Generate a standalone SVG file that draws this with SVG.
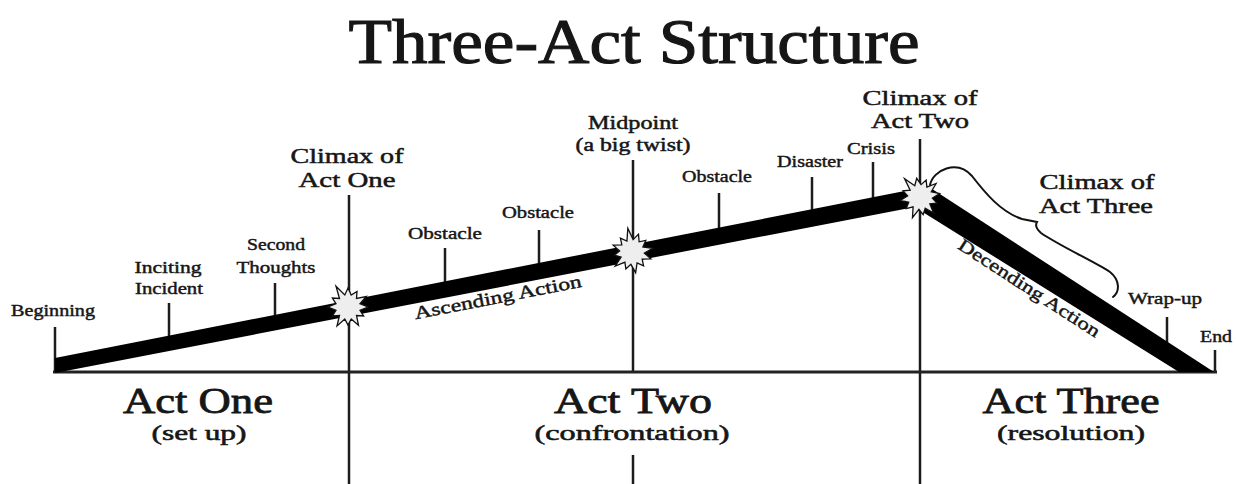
<svg xmlns="http://www.w3.org/2000/svg" width="1236" height="484" viewBox="0 0 1236 484">
  <defs>
    <style>
      text { font-family: "Liberation Serif", "Times New Roman", serif; fill: #161616; stroke: #161616; stroke-width: 0.45; text-anchor: middle; }
      .title { font-size: 64px; stroke-width: 1.1; }
      .sm { font-size: 17px; }
      .md { font-size: 21px; stroke-width: 0.5; }
      .mp { font-size: 19px; stroke-width: 0.5; }
      .act { font-size: 36px; stroke-width: 0.8; }
      .sub { font-size: 21px; stroke-width: 0.55; }
      .diag { font-size: 18px; }
      .thin { stroke: #1c1c1c; stroke-width: 2.5; fill: none; }
      .axis { stroke: #222; stroke-width: 3; fill: none; }
      .band { fill: #000; }
      .burst { fill: #eeeeee; stroke: #111; stroke-width: 1.3; stroke-linejoin: miter; }
      .brace { fill: none; stroke: #111; stroke-width: 2; stroke-linecap: round; }
    </style>
    <polygon id="star" points="20,0 12,3.2 15.6,9 8.5,8.5 10.5,18.2 3.2,12 0,18 -3.2,12 -11,19 -8.5,8.5 -15.6,9 -12,3.2 -20,0 -12,-3.2 -15.6,-9 -8.5,-8.5 -12,-20.8 -3.2,-12 0,-19 3.2,-12 9,-15.6 8.5,-8.5 18.2,-10.5 12,-3.2"/>
  </defs>
  <rect width="1236" height="484" fill="#ffffff"/>

  <text class="title" x="634" y="63" textLength="571" lengthAdjust="spacingAndGlyphs">Three-Act Structure</text>

  <g id="connectors">
    <!-- act dividers -->
    <line class="thin" x1="349" y1="195" x2="349" y2="484"/>
    <line class="thin" x1="633" y1="160" x2="633" y2="372"/>
    <line class="thin" x1="633" y1="455" x2="633" y2="484"/>
    <line class="thin" x1="920" y1="139" x2="920" y2="484"/>
    <!-- ticks -->
    <line class="thin" x1="55" y1="327" x2="55" y2="372"/>
    <line class="thin" x1="169" y1="303" x2="169" y2="343"/>
    <line class="thin" x1="275" y1="283" x2="275" y2="322"/>
    <line class="thin" x1="445" y1="248" x2="445" y2="289"/>
    <line class="thin" x1="539" y1="230" x2="539" y2="271"/>
    <line class="thin" x1="719" y1="193" x2="719" y2="236"/>
    <line class="thin" x1="812" y1="177" x2="812" y2="218"/>
    <line class="thin" x1="873" y1="162" x2="873" y2="206"/>
    <line class="thin" x1="1167" y1="317" x2="1167" y2="345"/>
    <line class="thin" x1="1215" y1="350" x2="1215" y2="372"/>
    <!-- baseline axis -->
    <line class="axis" x1="53" y1="372" x2="1217" y2="372"/>
    <!-- rising and falling action bands -->
    <polygon class="band" points="55,358 920,188 920,206 55,373"/>
    <polygon class="band" points="926,185 1214,372 1179,372 913,206"/>
    <!-- brace -->
    <path class="brace" d="M930,185 C933,170 957,159 972,176 C986,194 1001,212 1022,219 Q1032,221 1037,222 Q1034,227 1041,233 C1060,246 1095,262 1110,272 C1120,280 1120,292 1113,297"/>
  </g>

  <g id="burst-act-one"><use href="#star" class="burst" transform="translate(348,307)"/></g>
  <g id="burst-midpoint"><use href="#star" class="burst" transform="translate(632,252) rotate(20)"/></g>
  <g id="burst-act-two"><use href="#star" class="burst" transform="translate(920,197) rotate(-10)"/></g>

  <g id="beginning"><text class="sm" x="53" y="316" textLength="84" lengthAdjust="spacingAndGlyphs">Beginning</text></g>
  <g id="inciting-incident">
    <text class="sm" x="168" y="273" textLength="67" lengthAdjust="spacingAndGlyphs">Inciting</text>
    <text class="sm" x="169" y="294" textLength="68" lengthAdjust="spacingAndGlyphs">Incident</text>
  </g>
  <g id="second-thoughts">
    <text class="sm" x="276" y="250" textLength="58" lengthAdjust="spacingAndGlyphs">Second</text>
    <text class="sm" x="276" y="273" textLength="79" lengthAdjust="spacingAndGlyphs">Thoughts</text>
  </g>
  <g id="climax-act-one">
    <text class="md" x="347" y="163" textLength="113" lengthAdjust="spacingAndGlyphs">Climax of</text>
    <text class="md" x="347" y="187" textLength="97" lengthAdjust="spacingAndGlyphs">Act One</text>
  </g>
  <g id="obstacle-1"><text class="sm" x="445" y="239" textLength="74" lengthAdjust="spacingAndGlyphs">Obstacle</text></g>
  <g id="obstacle-2"><text class="sm" x="538" y="218" textLength="72" lengthAdjust="spacingAndGlyphs">Obstacle</text></g>
  <g id="midpoint">
    <text class="mp" x="633" y="129" textLength="90" lengthAdjust="spacingAndGlyphs">Midpoint</text>
    <text class="mp" x="633" y="151" textLength="115" lengthAdjust="spacingAndGlyphs">(a big twist)</text>
  </g>
  <g id="obstacle-3"><text class="sm" x="717" y="182" textLength="70" lengthAdjust="spacingAndGlyphs">Obstacle</text></g>
  <g id="disaster"><text class="sm" x="810" y="167" textLength="66" lengthAdjust="spacingAndGlyphs">Disaster</text></g>
  <g id="crisis"><text class="sm" x="871" y="154" textLength="48" lengthAdjust="spacingAndGlyphs">Crisis</text></g>
  <g id="climax-act-two">
    <text class="md" x="920" y="105" textLength="115" lengthAdjust="spacingAndGlyphs">Climax of</text>
    <text class="md" x="920" y="128" textLength="98" lengthAdjust="spacingAndGlyphs">Act Two</text>
  </g>
  <g id="climax-act-three">
    <text class="md" x="1097" y="189" textLength="115" lengthAdjust="spacingAndGlyphs">Climax of</text>
    <text class="md" x="1096" y="213" textLength="114" lengthAdjust="spacingAndGlyphs">Act Three</text>
  </g>
  <g id="wrap-up"><text class="sm" x="1165" y="304" textLength="74" lengthAdjust="spacingAndGlyphs">Wrap-up</text></g>
  <g id="end"><text class="sm" x="1216" y="342" textLength="32" lengthAdjust="spacingAndGlyphs">End</text></g>

  <g id="ascending-action"><text class="diag" transform="translate(499,303) rotate(-11)" textLength="170" lengthAdjust="spacingAndGlyphs">Ascending Action</text></g>
  <g id="decending-action"><text class="diag" transform="translate(1026,293) rotate(33)" textLength="165" lengthAdjust="spacingAndGlyphs">Decending Action</text></g>

  <g id="act-one">
    <text class="act" x="198" y="413" textLength="150" lengthAdjust="spacingAndGlyphs">Act One</text>
    <text class="sub" x="199" y="440" textLength="95" lengthAdjust="spacingAndGlyphs">(set up)</text>
  </g>
  <g id="act-two">
    <text class="act" x="633" y="413" textLength="158" lengthAdjust="spacingAndGlyphs">Act Two</text>
    <text class="sub" x="632" y="440" textLength="195" lengthAdjust="spacingAndGlyphs">(confrontation)</text>
  </g>
  <g id="act-three">
    <text class="act" x="1071" y="413" textLength="177" lengthAdjust="spacingAndGlyphs">Act Three</text>
    <text class="sub" x="1071" y="440" textLength="148" lengthAdjust="spacingAndGlyphs">(resolution)</text>
  </g>
</svg>
